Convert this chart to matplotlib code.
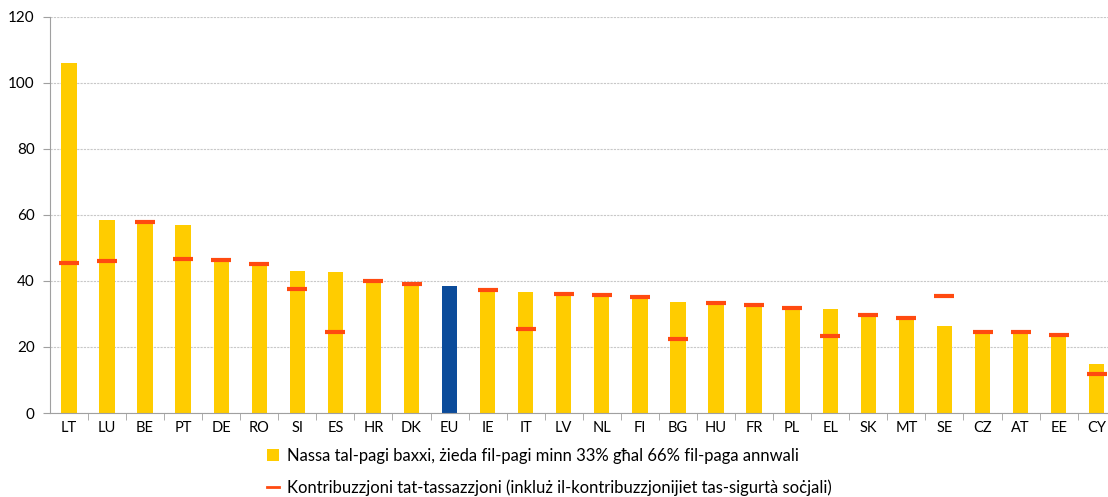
import matplotlib.pyplot as plt
from matplotlib.lines import Line2D
from matplotlib.patches import Patch

plt.rcParams["font.family"] = ["Lato", "DejaVu Sans"]

# Data
countries = ["LT", "LU", "BE", "PT", "DE", "RO", "SI", "ES", "HR", "DK", "EU",
             "IE", "IT", "LV", "NL", "FI", "BG", "HU", "FR", "PL", "EL", "SK",
             "MT", "SE", "CZ", "AT", "EE", "CY"]
low_wage = [106.0, 58.6, 57.5, 56.9, 46.0, 44.8, 43.1, 42.8, 39.8, 39.0, 38.5,
            37.0, 36.7, 35.9, 35.7, 34.8, 33.6, 33.2, 32.5, 31.7, 31.4, 29.5,
            28.4, 26.4, 24.4, 24.4, 23.3, 14.8]
tax = [45.4, 46.2, 58.0, 46.6, 46.4, 45.2, 37.7, 24.6, 40.1, 39.2, None,
       37.2, 25.5, 36.1, 35.9, 35.0, 22.4, 33.4, 32.7, 31.9, 23.2, 29.7,
       28.7, 35.5, 24.6, 24.6, 23.6, 11.7]

yellow = "#FFCC00"
blue = "#0B4B9A"
red = "#FF4A10"

fig = plt.figure(figsize=(11.08, 4.97), dpi=100)
ax = fig.add_axes([0.045, 0.169, 0.962, 0.797])

x = list(range(len(countries)))
colors = [blue if c == "EU" else yellow for c in countries]
ax.bar(x, low_wage, width=0.4, color=colors, zorder=2)

tx = [i for i, v in zip(x, tax) if v is not None]
tv = [v for v in tax if v is not None]
ax.plot(tx, tv, ls="none", marker="_", markersize=15, markeredgewidth=3.0,
        color=red, zorder=3)

ax.set_xlim(-0.5, len(countries) - 0.5)
ax.set_ylim(0, 120)
ax.set_yticks(range(0, 121, 20))
ax.set_xticks(x)
ax.set_xticklabels(countries)
ax.set_xticks([i + 0.5 for i in x[:-1]], minor=True)
ax.tick_params(axis="x", which="major", length=0, pad=6, labelsize=10.5)
ax.tick_params(axis="x", which="minor", length=5, color="#A0A0A0")
ax.tick_params(axis="y", length=5, color="#A0A0A0", labelsize=11, pad=6)
ax.yaxis.grid(True, color="#C8C8C8", ls=(0, (2, 1)), lw=0.8, zorder=0)
for s in ["top", "right"]:
    ax.spines[s].set_visible(False)
for s in ["left", "bottom"]:
    ax.spines[s].set_color("#A0A0A0")

handles = [
    Patch(facecolor=yellow, edgecolor="none"),
    Line2D([], [], color=red, lw=2),
]
labels = [
    "Nassa tal-pagi baxxi, żieda fil-pagi minn 33% għal 66% fil-paga annwali",
    "Kontribuzzjoni tat-tassazzjoni (inkluż il-kontribuzzjonijiet tas-sigurtà soċjali)",
]
fig.legend(handles, labels, loc="upper left", bbox_to_anchor=(0.235, 0.113),
           frameon=False, fontsize=12, handlelength=0.7, handletextpad=0.5,
           labelspacing=0.95, borderaxespad=0)

fig.savefig("out.png", dpi=100)
